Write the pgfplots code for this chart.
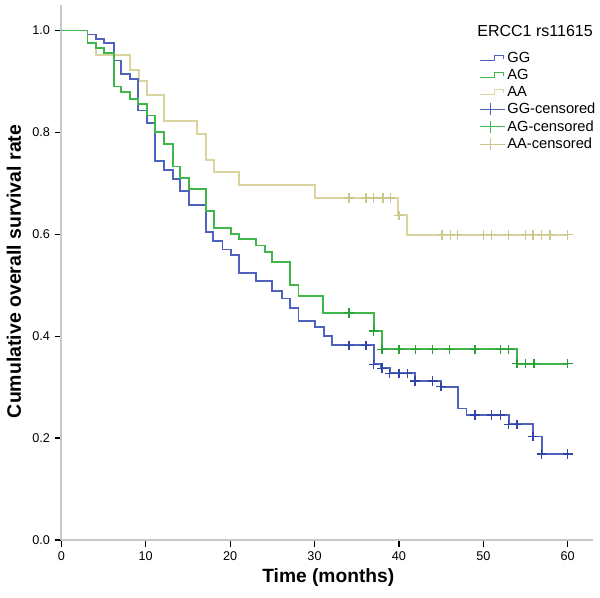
\documentclass[border=0pt]{standalone}
\usepackage{fontspec}
\setmainfont{Liberation Sans}
\usepackage{pgfplots}
\pgfplotsset{compat=1.18}
\definecolor{ggc}{RGB}{78,98,190}
\definecolor{ggm}{RGB}{50,68,165}
\definecolor{agc}{RGB}{62,182,74}
\definecolor{agm}{RGB}{40,160,55}
\definecolor{aac}{RGB}{218,213,160}
\definecolor{aam}{RGB}{205,198,140}
\definecolor{axg}{RGB}{200,200,200}
\pgfplotsset{
  steplegend/.style={legend image code/.code={\draw[##1] (0pt,-1.5pt) -- (11pt,-1.5pt) -- (11pt,2pt) -- (17.5pt,2pt) -- (17.5pt,-0.5pt);}},
  censlegend/.style={legend image code/.code={\draw[##1] (0pt,0pt) -- (19pt,0pt); \draw[##1] (8pt,-4.5pt) -- (8pt,4.5pt);}},
}
\begin{document}
\begin{tikzpicture}[x=1pt,y=1pt]
\useasboundingbox (-46,-43.5) rectangle (404,405);
\begin{axis}[
  at={(0,0)}, anchor=south west,
  width=398.8pt, height=401.25pt, scale only axis,
  xmin=0, xmax=63, ymin=0, ymax=1.05,
  axis x line=bottom, axis y line=left,
  axis line style={-, draw=axg, line width=1.3pt},
  xtick={0,10,...,60}, ytick={0,0.2,0.4,0.6,0.8,1.0},
  tick align=outside, major tick length=5pt,
  tick style={black, line width=0.9pt},
  /pgf/number format/assume math mode=true,
  ticklabel style={font=\fontsize{9.5}{11}\selectfont},
  yticklabel style={/pgf/number format/.cd, fixed, fixed zerofill, precision=1},
  xlabel={\bfseries Time (months)},
  ylabel={\bfseries Cumulative overall survival rate},
  xlabel style={at={(axis description cs:0.502,0)}, yshift=-28.5pt, anchor=center, font=\fontsize{14.4}{16}\selectfont},
  ylabel style={at={(axis description cs:-0.089,0.502)}, anchor=center, font=\fontsize{14.6}{16}\selectfont},
  legend style={at={(rel axis cs:0.786,0.915)}, anchor=north west, draw=none, fill=none,
    font=\fontsize{11}{12.5}\selectfont, row sep=1.6pt, inner sep=0pt,
    nodes={inner sep=1pt}},
  legend cell align=left,
  clip=false,
]
\addplot[const plot, aac, line width=1.4pt, forget plot] coordinates {
(0,1)(3.1,0.975)(4.1,0.951)(8.1,0.923)(9.2,0.900)(10.2,0.874)(12.2,0.822)(16.1,0.797)(17.1,0.746)(18.1,0.722)(21.1,0.697)(30.1,0.671)(39.9,0.637)(41.0,0.599)(60,0.599)};
\addplot[const plot, ggc, line width=1.4pt, forget plot] coordinates {
(0,1)(3.1,0.992)(4.1,0.984)(5.1,0.975)(6.2,0.941)(7.1,0.915)(8.1,0.905)(9.1,0.843)(10.1,0.818)(11.1,0.744)(12.2,0.726)(13.2,0.709)(14.1,0.685)(15.1,0.657)(17.1,0.605)(18.0,0.587)(19.1,0.570)(20.1,0.559)(21.1,0.524)(23.1,0.508)(25.0,0.489)(26.1,0.474)(27.1,0.455)(28.1,0.429)(30.1,0.418)(31.1,0.400)(32.1,0.382)(37.0,0.345)(37.9,0.337)(38.9,0.327)(41.9,0.312)(45.0,0.301)(47.0,0.258)(48.0,0.245)(53.0,0.227)(55.9,0.203)(56.9,0.169)(60,0.169)};
\addplot[const plot, agc, line width=1.4pt, forget plot] coordinates {
(0,1)(3.1,0.975)(4.1,0.966)(5.1,0.955)(6.2,0.890)(7.1,0.879)(8.1,0.866)(9.1,0.855)(10.1,0.833)(11.1,0.801)(12.2,0.778)(13.2,0.733)(14.1,0.711)(15.1,0.689)(17.1,0.646)(18.1,0.612)(20.1,0.600)(21.1,0.590)(23.1,0.578)(24.1,0.565)(25.0,0.546)(27.1,0.501)(28.1,0.479)(31.0,0.446)(37.0,0.410)(38.0,0.374)(54.0,0.346)(60,0.346)};
\addplot[only marks, mark=+, mark size=3.6pt, aam, mark options={line width=1pt}, forget plot] coordinates {
(34.1,0.671)(36.1,0.671)(37.0,0.671)(38.1,0.671)(39.0,0.671)(40.0,0.637)(45.1,0.599)(46.1,0.599)(46.9,0.599)(50.0,0.599)(51.0,0.599)(53.0,0.599)(55.0,0.599)(55.9,0.599)(56.9,0.599)(57.9,0.599)(60.0,0.599)};
\addplot[only marks, mark=+, mark size=3.6pt, ggm, mark options={line width=1pt}, forget plot] coordinates {
(34.1,0.382)(36.1,0.382)(37.0,0.345)(38.0,0.337)(38.9,0.327)(40.0,0.327)(41.0,0.327)(41.9,0.312)(44.0,0.312)(45.0,0.301)(49.0,0.245)(51.0,0.245)(52.0,0.245)(53.0,0.227)(54.0,0.227)(55.9,0.203)(56.9,0.169)(60.0,0.169)};
\addplot[only marks, mark=+, mark size=3.6pt, agm, mark options={line width=1pt}, forget plot] coordinates {
(34.1,0.446)(37.0,0.410)(38.0,0.374)(40.0,0.374)(42.0,0.374)(44.0,0.374)(46.0,0.374)(49.0,0.374)(52.0,0.374)(53.0,0.374)(54.0,0.346)(55.0,0.346)(56.0,0.346)(60.0,0.346)};
\addlegendimage{ggc, line width=0.9pt, steplegend}
\addlegendentry{GG}
\addlegendimage{agc, line width=0.9pt, steplegend}
\addlegendentry{AG}
\addlegendimage{aac, line width=0.9pt, steplegend}
\addlegendentry{AA}
\addlegendimage{ggc, line width=0.8pt, censlegend}
\addlegendentry{GG-censored}
\addlegendimage{agc, line width=0.8pt, censlegend}
\addlegendentry{AG-censored}
\addlegendimage{aam, line width=0.8pt, censlegend}
\addlegendentry{AA-censored}
\node[anchor=west, font=\fontsize{12}{14}\selectfont, inner sep=0pt] at (rel axis cs:0.782,0.951) {ERCC1 rs11615};
\end{axis}
\end{tikzpicture}
\end{document}
